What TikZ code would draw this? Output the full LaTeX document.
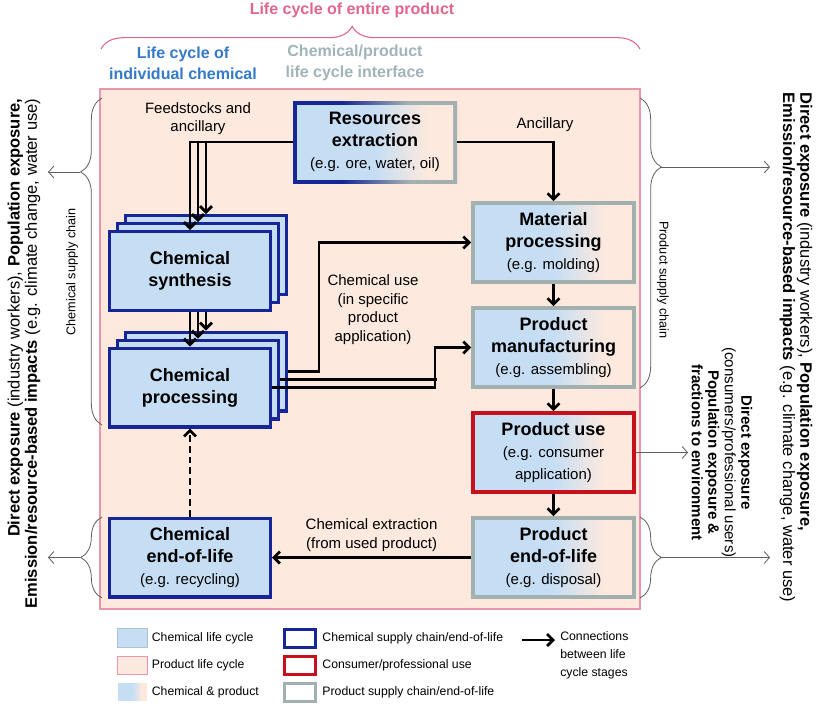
\documentclass[tikz,border=0pt]{standalone}
\usepackage{fontspec}
\setmainfont{Liberation Sans}
\usepackage{tikz}
\usetikzlibrary{arrows.meta,positioning,decorations.pathreplacing}
\tikzset{>={Straight Barb[length=4.5pt,width=9pt]}}
\usepackage{xcolor}

\definecolor{chemblue}{RGB}{198,222,244}
\definecolor{peach}{RGB}{253,233,222}
\definecolor{navy}{RGB}{22,38,150}
\definecolor{framegray}{RGB}{163,176,176}
\definecolor{userred}{RGB}{198,16,28}
\definecolor{pinkline}{RGB}{236,150,172}
\definecolor{titlepink}{RGB}{226,102,140}
\definecolor{hdrblue}{RGB}{52,122,200}
\definecolor{hdrgray}{RGB}{160,180,186}
\definecolor{sidegray}{RGB}{95,95,95}
\definecolor{swblue}{RGB}{175,195,215}

\pgfdeclarehorizontalshading{chemprod}{100bp}{color(0bp)=(chemblue); color(50bp)=(chemblue); color(66bp)=(peach); color(100bp)=(peach)}
\pgfdeclarehorizontalshading{resframe}{100bp}{color(0bp)=(navy); color(40bp)=(navy); color(60bp)=(framegray); color(100bp)=(framegray)}

\newcommand{\egline}[1]{{\mdseries\fontsize{11.25}{16.5}\selectfont #1}}

\tikzset{
  box/.style={minimum width=120.5pt, minimum height=59pt, inner sep=0pt, align=center,
    font=\bfseries\fontsize{13.5}{16.5}\selectfont},
  chembox/.style={box, draw=navy, line width=2.5pt, fill=chemblue},
  prodbox/.style={box, draw=framegray, line width=3pt, shade, shading=chemprod},
  usebox/.style={prodbox, draw=userred},
  resbox/.style={box, minimum width=123pt, minimum height=61.5pt, shade, shading=resframe,
    path picture={\shade[shading=chemprod] ([shift={(3pt,-3pt)}]path picture bounding box.north west)
      rectangle ([shift={(-3pt,3pt)}]path picture bounding box.south east);}},
  flow/.style={black, line width=2pt},
  side/.style={sidegray, line width=0.6pt},
  sidearrow/.style={side, -{Straight Barb[length=4pt,width=9pt]}},
  sidebrace/.style={side, decorate, decoration={brace, amplitude=16pt, #1}},
  lbl/.style={align=center, font=\fontsize{11.25}{14}\selectfont},
  hdr/.style={align=center, font=\bfseries\fontsize{12}{15.75}\selectfont},
  sidetxt/.style={font=\fontsize{12.4}{12.8}\selectfont},
  usetxt/.style={align=center, font=\fontsize{11.3}{12.4}\selectfont},
  chaintxt/.style={font=\fontsize{9.5}{11}\selectfont},
  swatch/.style={minimum width=22pt, minimum height=14pt, inner sep=0pt, line width=0.6pt},
  framesw/.style={minimum width=23pt, minimum height=13.5pt, inner sep=0pt, line width=2.25pt, fill=white},
  legtxt/.style={inner sep=0pt, align=left, font=\fontsize{9.2}{13.5}\selectfont}
}

\begin{document}
\begin{tikzpicture}[x=0.75pt, y=-0.75pt]
\fill[white, use as bounding box] (0,0) rectangle (817,707);

% whole product
\node[font=\bfseries\fontsize{12}{14}\selectfont, text=titlepink] (entire) at (352,10) {Life cycle of entire product};
\draw[titlepink, line width=0.8pt, decorate, decoration={brace, amplitude=17pt, aspect=0.466}] (101,49) -- (640,49);
\node[hdr, text=hdrblue] (chemhdr) at (183,63) {Life cycle of\\individual chemical};
\node[hdr, text=hdrgray] (ifchdr) at (355,63) {Chemical/product\\life cycle interface};

% product life cycle area
\draw[pinkline, fill=peach, line width=1pt] (100,89) rectangle (640,609);

% stages
\node[resbox] (res) at (375,142) {Resources\\extraction\\\egline{(e.g. ore, water, oil)}};
\node[chembox] (syn3) at (206,255) {};
\node[chembox] (syn2) at (198,263) {};
\node[chembox] (syn1) at (190,271) {Chemical\\synthesis};
\node[chembox] (proc3) at (206,371.5) {};
\node[chembox] (proc2) at (198,379.5) {};
\node[chembox] (proc1) at (190,387.5) {Chemical\\processing};
\node[chembox] (eol) at (190,557.5) {Chemical\\end-of-life\\\egline{(e.g. recycling)}};
\node[prodbox] (mat) at (553.5,242.5) {Material\\processing\\\egline{(e.g. molding)}};
\node[prodbox] (man) at (553.5,347.5) {Product\\manufacturing\\\egline{(e.g. assembling)}};
\node[usebox] (use) at (553.5,452.5) {Product use\\\egline{(e.g. consumer}\\\egline{application)}};
\node[prodbox] (peol) at (553.5,557.5) {Product\\end-of-life\\\egline{(e.g. disposal)}};

% feedstocks and ancillary
\draw[flow,->] (res.west) -| (syn1.north);
\draw[flow,->] (syn2.north |- res.west) -- (syn2.north);
\draw[flow,->] (syn3.north |- res.west) -- (syn3.north);
\node[lbl] (feedlbl) at (198,118.5) {Feedstocks and\\ancillary};
\draw[flow,->] (res.east) -| (mat.north);
\node[lbl] (anclbl) at (545,125) {Ancillary};

% synthesis to processing
\draw[flow,->] (syn1.south) -- (proc1.north);
\draw[flow,->] (syn2.south |- syn1.south) -- (proc2.north);
\draw[flow,->] (syn3.south |- syn1.south) -- (proc3.north);

% chemical use
\draw[flow,->] (proc3.east) -- ++(31,0) |- (mat.west);
\draw[flow] (proc2.east) -- ++(157,0);
\draw[flow,->] (proc1.east) -- ++(163,0) |- (man.west);
\node[lbl] (uselbl) at (373,309.5) {Chemical use\\(in specific\\product\\application)};

% product chain
\draw[flow,->] (mat.south) -- (man.north);
\draw[flow,->] (man.south) -- (use.north);
\draw[flow,->] (use.south) -- (peol.north);
\draw[flow,->] (peol.west) -- (eol.east)
    node[midway, above, lbl] (extrlbl) {Chemical extraction\\(from used product)};
\draw[flow,->,dash pattern=on 5pt off 3pt] (eol.north) -- (proc1.south);

% left side
\draw[sidebrace={aspect=0.774}] (102,425) -- (102,98);
\draw[sidebrace={aspect=0.5}] (102,598) -- (102,517);
\coordinate (lbt1) at (80,172);
\coordinate (lbe1) at (48,172);
\coordinate (lbt2) at (80,557.5);
\coordinate (lbe2) at (48,557.5);
\draw[sidearrow] (lbt1) -- (lbe1);
\draw[sidearrow] (lbt2) -- (lbe2);
\node[chaintxt, rotate=90] (chemchain) at (72,272) {Chemical supply chain};
\node[sidetxt, rotate=90, anchor=east, align=right] (leftfx) at (24,94)
    {\textbf{Direct exposure} (industry workers), \textbf{Population exposure,}\\
     \textbf{Emission/resource-based impacts} (e.g. climate change, water use)};

% right side
\draw[sidebrace={aspect=0.238}] (640,98) -- (640,388);
\draw[sidebrace={aspect=0.5}] (640,517) -- (640,598);
\coordinate (rbt1) at (660,167);
\coordinate (rbe1) at (770,167);
\coordinate (rbt2) at (660,557.5);
\coordinate (rbe2) at (770,557.5);
\coordinate (ube) at (688,452.5);
\draw[sidearrow] (rbt1) -- (rbe1);
\draw[sidearrow] (rbt2) -- (rbe2);
\draw[sidearrow] (use.east) -- (ube);
\node[chaintxt, rotate=-90] (prodchain) at (663,280) {Product supply chain};
\node[sidetxt, rotate=-90, anchor=west, align=left] (rightfx) at (796,88)
    {\textbf{Direct exposure} (industry workers), \textbf{Population exposure,}\\
     \textbf{Emission/resource-based impacts} (e.g. climate change, water use)};
\node[usetxt, rotate=-90] (usefx) at (722,452.5)
    {\textbf{Direct exposure}\\(consumers/professional users)\\\textbf{Population exposure \&}\\\textbf{fractions to environment}};

% legend
\node[swatch, fill=chemblue, draw=swblue] (lgchem) at (132.5,638) {};
\node[swatch, fill=peach, draw=pinkline] (lgprod) at (132.5,665.5) {};
\node[swatch, shade, shading=chemprod, draw=white] (lgboth) at (132.5,692) {};
\node[legtxt, right=3pt of lgchem] (lgchemtx) {Chemical life cycle};
\node[legtxt, right=3pt of lgprod] (lgprodtx) {Product life cycle};
\node[legtxt, right=3pt of lgboth] (lgbothtx) {Chemical \& product};
\node[framesw, draw=navy] (lgnavy) at (300,638) {};
\node[framesw, draw=userred] (lgred) at (300,665.5) {};
\node[framesw, draw=framegray] (lggray) at (300,692) {};
\node[legtxt, right=4pt of lgnavy] (lgnavytx) {Chemical supply chain/end-of-life};
\node[legtxt, right=4pt of lgred] (lgredtx) {Consumer/professional use};
\node[legtxt, right=4pt of lggray] (lggraytx) {Product supply chain/end-of-life};
\coordinate (lga0) at (522,640);
\coordinate (lga1) at (555,640);
\draw[flow,->] (lga0) -- (lga1);
\node[legtxt, anchor=north west] (lgconn) at (560,631) {Connections\\between life\\cycle stages};
\end{tikzpicture}
\end{document}
